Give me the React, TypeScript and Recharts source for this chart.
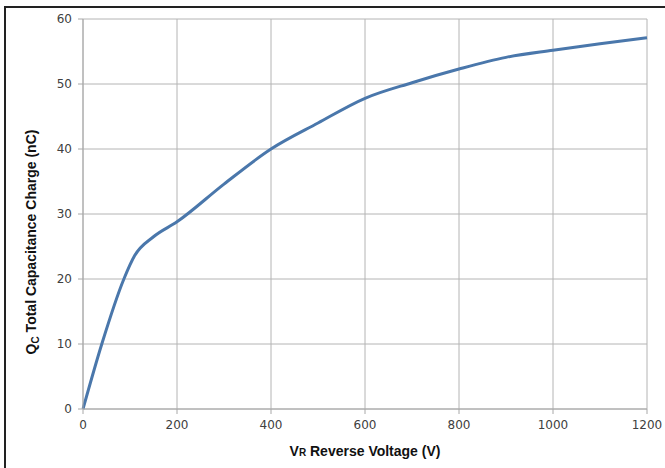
import { LineChart, Line, XAxis, YAxis, CartesianGrid, Label } from 'recharts';

// Reverse voltage (V) vs total capacitance charge (nC)
const voltage = [0, 40, 87, 110, 150, 200, 300, 400, 500, 600, 700, 800, 900, 1000, 1100, 1200];
const charge = [0, 10, 20, 23.6, 26.5, 28.8, 34.6, 40, 44, 47.8, 50.2, 52.3, 54.1, 55.2, 56.2, 57.1];
const xTicks = [0, 200, 400, 600, 800, 1000, 1200];
const yTicks = [0, 10, 20, 30, 40, 50, 60];

const data = voltage.map((v, i) => ({ v, q: charge[i] }));

const tickStyle = { fontFamily: 'DejaVu Sans', fontSize: 12, fill: '#404040' };
const titleFont = { fontFamily: 'Liberation Sans', fontWeight: 'bold' as const, fill: '#111' };

function XTitle(props: any) {
  const { viewBox } = props;
  const cx = viewBox.x + viewBox.width / 2;
  return (
    <text x={cx} y={456} textAnchor="middle" style={titleFont} fontSize={14}>
      V<tspan fontSize={10}>R</tspan> Reverse Voltage (V)
    </text>
  );
}

function YTitle() {
  return (
    <text x={36} y={242} textAnchor="middle" transform="rotate(-90 36 242)" style={titleFont} fontSize={14}>
      Q<tspan fontSize={10} dy={3}>C</tspan><tspan dy={-3}> Total Capacitance Charge (nC)</tspan>
    </text>
  );
}

export default function App() {
  return (
    <div style={{ position: 'absolute', left: 0, top: 0, width: 665, height: 468, background: '#fff', overflow: 'hidden' }}>
      <LineChart width={665} height={468} data={data} margin={{ top: 19, right: 18, left: 0, bottom: 29 }}>
        <CartesianGrid stroke="#b4b4b4" strokeWidth={1} />
        <XAxis
          dataKey="v"
          type="number"
          domain={[0, 1200]}
          ticks={xTicks}
          height={30}
          tickSize={5}
          tickMargin={6}
          stroke="#a8a8a8"
          tick={tickStyle}
        >
          <Label content={<XTitle />} />
        </XAxis>
        <YAxis
          type="number"
          domain={[0, 60]}
          ticks={yTicks}
          width={83}
          tickSize={5}
          tickMargin={6}
          stroke="#a8a8a8"
          tick={tickStyle}
        >
          <Label content={<YTitle />} />
        </YAxis>
        <Line
          type="monotone"
          dataKey="q"
          stroke="#4a77ab"
          strokeWidth={3}
          dot={false}
          isAnimationActive={false}
        />
      </LineChart>
      {/* picture frame: only left and top edges show in the original */}
      <div style={{ position: 'absolute', left: 4, top: 6, width: 2, height: 470, background: '#222' }} />
      <div style={{ position: 'absolute', left: 4, top: 6, width: 670, height: 2, background: '#222' }} />
    </div>
  );
}
